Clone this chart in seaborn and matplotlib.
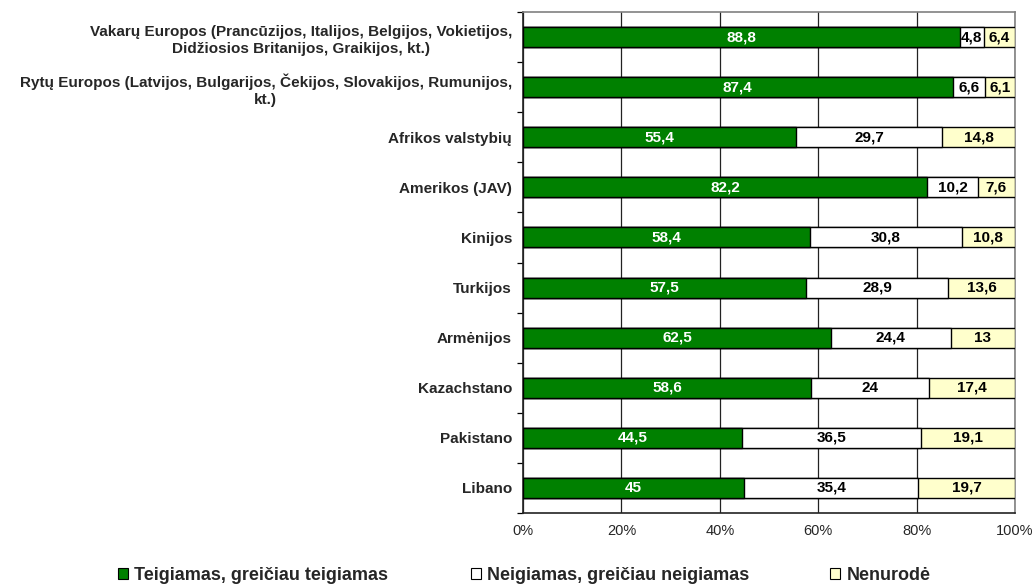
import numpy as np
import pandas as pd
import matplotlib
matplotlib.use("Agg")
import matplotlib.pyplot as plt
from matplotlib.patches import Patch
from matplotlib.ticker import FixedLocator
import seaborn as sns

categories = [
    "Vakarų Europos (Prancūzijos, Italijos, Belgijos, Vokietijos,\nDidžiosios Britanijos, Graikijos, kt.)",
    "Rytų Europos (Latvijos, Bulgarijos, Čekijos, Slovakijos, Rumunijos,\nkt.)",
    "Afrikos valstybių",
    "Amerikos (JAV)",
    "Kinijos",
    "Turkijos",
    "Armėnijos",
    "Kazachstano",
    "Pakistano",
    "Libano",
]
positive = [88.8, 87.4, 55.4, 82.2, 58.4, 57.5, 62.5, 58.6, 44.5, 45]
negative = [4.8, 6.6, 29.7, 10.2, 30.8, 28.9, 24.4, 24, 36.5, 35.4]
no_answer = [6.4, 6.1, 14.8, 7.6, 10.8, 13.6, 13, 17.4, 19.1, 19.7]
series_names = ["Teigiamas, greičiau teigiamas", "Neigiamas, greičiau neigiamas", "Nenurodė"]
tick_labels = ["0%", "20%", "40%", "60%", "80%", "100%"]

colors = ["#008000", "#FFFFFF", "#FFFFCC"]

sns.set_theme(style="white")
plt.rcParams["font.family"] = ["Liberation Sans", "DejaVu Sans"]
plt.rcParams["font.weight"] = "bold"

df = pd.DataFrame({"cat": categories, "pos": positive, "neg": negative, "na": no_answer})
total = df["pos"] + df["neg"] + df["na"]
df["p_pos"] = df["pos"] / total * 100
df["p_neg"] = df["neg"] / total * 100
df["p_na"] = df["na"] / total * 100
df["c1"] = df["p_pos"]
df["c2"] = df["p_pos"] + df["p_neg"]
df["c3"] = df["c2"] + df["p_na"]

W, H = 1036, 585
fig = plt.figure(figsize=(W / 100, H / 100), dpi=100)
ax = fig.add_axes([523 / W, 1 - 513 / H, (1015 - 523) / W, (513 - 12) / H])

bar_kw = dict(orient="h", width=0.4, edgecolor="black", linewidth=1.0, ax=ax, zorder=3)
sns.barplot(data=df, x="c3", y="cat", color=colors[2], saturation=1, **bar_kw)
sns.barplot(data=df, x="c2", y="cat", color=colors[1], saturation=1, **bar_kw)
sns.barplot(data=df, x="c1", y="cat", color=colors[0], saturation=1, **bar_kw)

n = len(categories)
fmt = lambda v: f"{v:g}".replace(".", ",")
for i, row in df.iterrows():
    ax.text(row["p_pos"] / 2, i, fmt(row["pos"]), ha="center", va="center",
            color="white", fontsize=11, fontweight="bold", zorder=5)
    ax.text(row["c1"] + row["p_neg"] / 2, i, fmt(row["neg"]), ha="center", va="center",
            color="black", fontsize=11, fontweight="bold", zorder=5)
    ax.text(row["c2"] + row["p_na"] / 2, i, fmt(row["na"]), ha="center", va="center",
            color="black", fontsize=11, fontweight="bold", zorder=5)

ax.set_xlim(0, 100)
ax.set_ylim(n - 0.5, -0.5)
ax.set_xticks([0, 20, 40, 60, 80, 100])
ax.set_xticklabels(tick_labels, fontsize=10.5, fontweight="normal")
ax.xaxis.grid(True, color="#222222", linewidth=0.9, zorder=0)
ax.yaxis.grid(False)
ax.set_xlabel("")
ax.set_ylabel("")
ax.tick_params(axis="x", length=0, pad=8)
ax.tick_params(axis="y", which="major", length=0, pad=8)
ax.yaxis.set_minor_locator(FixedLocator(np.arange(-0.5, n + 0.5, 1)))
ax.tick_params(axis="y", which="minor", length=4, width=0.9, color="black", left=True)
for lab in ax.get_yticklabels():
    lab.set_fontsize(11)
    lab.set_fontweight("bold")
    lab.set_multialignment("center")
    lab.set_linespacing(1.3)

for side in ["left", "bottom"]:
    ax.spines[side].set_color("#222222")
    ax.spines[side].set_linewidth(1.2)
for side in ["top", "right"]:
    ax.spines[side].set_color("#808080")
    ax.spines[side].set_linewidth(1.2)

legend_x = [118, 471, 830]
for name, c, x in zip(series_names, colors, legend_x):
    fig.legend([Patch(facecolor=c, edgecolor="black", linewidth=0.8)], [name],
               loc="center left", bbox_to_anchor=(x / W, 1 - 575 / H),
               frameon=False, borderpad=0, borderaxespad=0,
               handlelength=0.55, handleheight=0.55, handletextpad=0.35,
               prop={"weight": "bold", "size": 13})

fig.savefig("out.png", dpi=100)
